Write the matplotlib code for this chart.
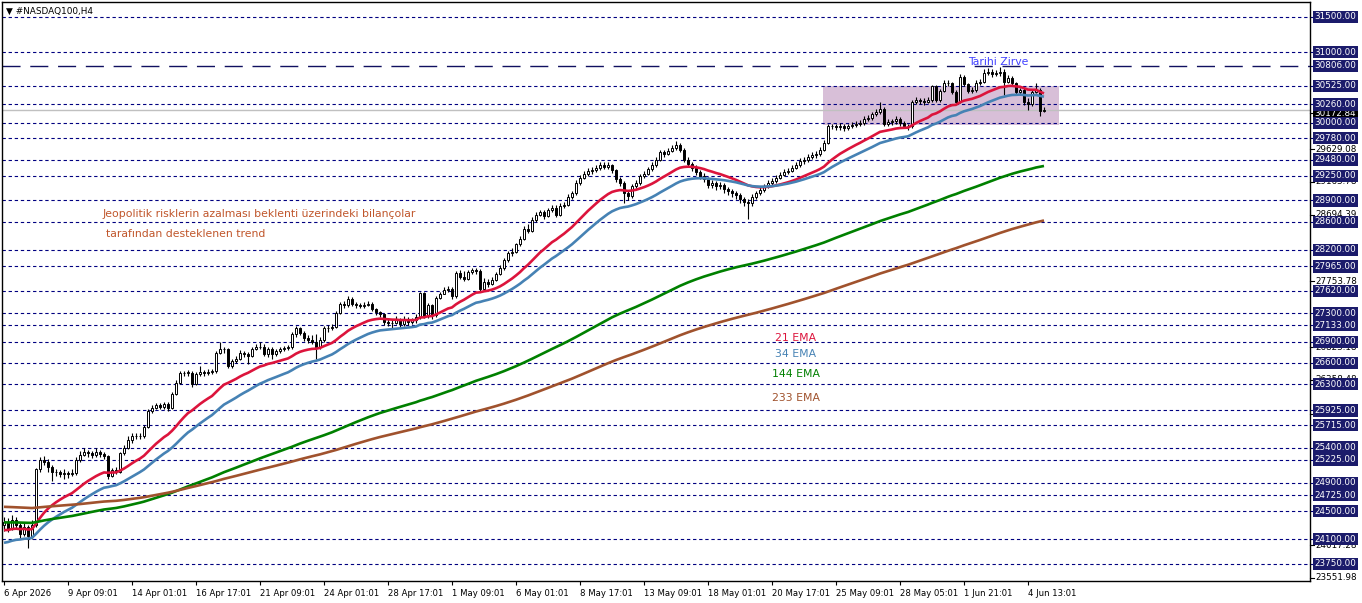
import numpy as np
import matplotlib
matplotlib.use("Agg")
import matplotlib.pyplot as plt
from matplotlib.patches import Rectangle

# H4 candles, one entry per bar (open of each bar = previous close)
first_open = 24300
closes = [
    24350, 24250, 24380, 24300, 24180, 24280, 24150, 24300, 25090, 25220,
    25200, 25120, 25060, 25050, 25030, 25040, 25020, 25040, 25230, 25300,
    25330, 25320, 25300, 25340, 25310, 25280, 25000, 25080, 25060, 25320,
    25400, 25500, 25560, 25570, 25560, 25690, 25920, 25960, 26000, 25980,
    26010, 25960, 26160, 26320, 26450, 26460, 26460, 26300, 26440, 26470,
    26460, 26470, 26480, 26740, 26800, 26790, 26560, 26620, 26660, 26740,
    26720, 26700, 26800, 26820, 26830, 26720, 26800, 26720, 26770, 26800,
    26810, 26820, 27010, 27090, 27020, 26950, 26920, 26900, 26830, 26920,
    27090, 27090, 27110, 27310, 27440, 27420, 27500, 27430, 27420, 27410,
    27420, 27440, 27360, 27320, 27290, 27180, 27160, 27170, 27200, 27150,
    27220, 27180, 27200, 27250, 27590, 27260, 27420, 27280, 27520, 27580,
    27630, 27650, 27540, 27870, 27820, 27790, 27880, 27910, 27900, 27650,
    27750, 27720, 27780, 27860, 27940, 28050, 28150, 28170, 28280, 28360,
    28500, 28470, 28620, 28700, 28730, 28680, 28760, 28800, 28700, 28820,
    28840, 28950, 29000, 29150, 29220, 29280, 29320, 29330, 29360, 29400,
    29380, 29400, 29330, 29200, 29150, 29000, 28960, 29100, 29150, 29250,
    29280, 29340, 29400, 29480, 29580, 29560, 29600, 29640, 29680, 29620,
    29480, 29420, 29360, 29300, 29250, 29200, 29120, 29150, 29100, 29120,
    29060, 29030, 29000, 28980, 28920, 28880, 28860, 28950, 29000, 29050,
    29100, 29150, 29180, 29220, 29260, 29300, 29320, 29360, 29400, 29460,
    29480, 29520, 29540, 29560, 29620, 29720, 29960, 29950, 29940, 29960,
    29930, 29950, 29970, 29990, 30000, 30060, 30070, 30120, 30150, 30200,
    29990, 30010, 30020, 30050, 30000, 29960, 29950, 30300, 30320, 30310,
    30300, 30320, 30520, 30320, 30450, 30560, 30560, 30440, 30300, 30650,
    30550, 30450, 30470, 30560, 30580, 30700, 30720, 30690, 30700, 30720,
    30580, 30630, 30560, 30430, 30460, 30300, 30260, 30440, 30470, 30170,
    30180,
]
highs = [
    24420, 24400, 24440, 24420, 24330, 24340, 24300, 24380, 25110, 25260,
    25280, 25240, 25150, 25100, 25080, 25090, 25070, 25090, 25260, 25350,
    25390, 25360, 25350, 25400, 25370, 25330, 25300, 25110, 25120, 25340,
    25430, 25560, 25600, 25610, 25600, 25720, 25950, 26000, 26030, 26030,
    26050, 26040, 26190, 26350, 26480, 26490, 26500, 26480, 26470, 26560,
    26500, 26510, 26510, 26770, 26890, 26830, 26810, 26650, 26690, 26780,
    26770, 26750, 26830, 26860, 26900, 26860, 26830, 26820, 26800, 26830,
    26840, 26850, 27040, 27120, 27110, 27050, 26990, 27000, 27010, 26960,
    27120, 27130, 27150, 27340, 27460, 27470, 27540, 27530, 27460, 27450,
    27460, 27470, 27460, 27380, 27340, 27300, 27220, 27220, 27260, 27240,
    27260, 27250, 27240, 27290, 27610, 27610, 27450, 27440, 27550, 27610,
    27670, 27690, 27680, 27900, 27920, 27900, 27920, 27950, 27950, 27930,
    27800, 27790, 27820, 27890, 27980, 28080, 28180, 28220, 28300, 28400,
    28540, 28560, 28660, 28740, 28770, 28760, 28800, 28840, 28830, 28860,
    28880, 28990, 29040, 29190, 29260, 29320, 29360, 29380, 29400, 29440,
    29450, 29440, 29420, 29350, 29230, 29170, 29050, 29130, 29190, 29280,
    29320, 29380, 29440, 29520, 29620, 29620, 29640, 29680, 29740, 29720,
    29650, 29510, 29450, 29400, 29330, 29290, 29230, 29190, 29180, 29160,
    29150, 29090, 29060, 29040, 29010, 28950, 28920, 28990, 29040, 29090,
    29140, 29190, 29220, 29260, 29300, 29340, 29360, 29400, 29440, 29500,
    29520, 29560, 29580, 29600, 29660, 29760, 29990, 29990, 29980, 30000,
    29990, 29990, 30010, 30030, 30040, 30100, 30110, 30160, 30190, 30300,
    30220, 30050, 30060, 30090, 30080, 30030, 29990, 30320, 30360, 30350,
    30350, 30360, 30540, 30540, 30480, 30600, 30600, 30580, 30460, 30690,
    30680, 30570, 30510, 30600, 30620, 30760, 30770, 30760, 30750, 30790,
    30760, 30680, 30660, 30580, 30500, 30490, 30350, 30480, 30560, 30490,
    30230,
]
lows = [
    24220, 24200, 24230, 24250, 24120, 24150, 23970, 24110, 24280, 25060,
    25150, 25050, 24920, 24990, 24980, 24960, 24970, 24990, 25010, 25200,
    25280, 25270, 25250, 25270, 25270, 25240, 24950, 24980, 25020, 25040,
    25300, 25380, 25470, 25520, 25520, 25540, 25670, 25890, 25940, 25940,
    25950, 25920, 25940, 26140, 26300, 26420, 26420, 26260, 26280, 26420,
    26420, 26430, 26440, 26460, 26720, 26740, 26520, 26530, 26600, 26640,
    26680, 26590, 26680, 26780, 26790, 26690, 26680, 26650, 26700, 26740,
    26770, 26780, 26800, 26960, 26990, 26910, 26880, 26860, 26650, 26800,
    26900, 27040, 27070, 27090, 27290, 27380, 27390, 27400, 27380, 27370,
    27380, 27400, 27330, 27280, 27250, 27130, 27120, 27080, 27150, 27110,
    27120, 27140, 27150, 27160, 27220, 27230, 27230, 27220, 27250, 27500,
    27570, 27600, 27510, 27520, 27790, 27760, 27770, 27860, 27860, 27620,
    27620, 27680, 27700, 27760, 27840, 27920, 28030, 28120, 28150, 28260,
    28340, 28440, 28450, 28600, 28680, 28640, 28660, 28740, 28660, 28680,
    28790, 28820, 28920, 28980, 29120, 29200, 29250, 29280, 29300, 29330,
    29340, 29350, 29290, 29160, 29100, 28870, 28900, 28940, 29080, 29120,
    29220, 29260, 29320, 29380, 29460, 29520, 29540, 29580, 29620, 29580,
    29440, 29380, 29320, 29260, 29200, 29160, 29080, 29080, 29050, 29060,
    29010, 28980, 28950, 28920, 28870, 28820, 28640, 28820, 28920, 28980,
    29020, 29080, 29120, 29150, 29200, 29240, 29270, 29300, 29340, 29380,
    29420, 29450, 29490, 29500, 29530, 29600, 29700, 29910, 29900, 29900,
    29880, 29900, 29920, 29940, 29950, 29970, 30020, 30040, 30090, 30120,
    29950, 29950, 29970, 29990, 29950, 29920, 29900, 29930, 30270, 30270,
    30250, 30280, 30290, 30290, 30290, 30430, 30520, 30410, 30270, 30280,
    30520, 30420, 30420, 30440, 30530, 30560, 30680, 30650, 30660, 30670,
    30400, 30560, 30520, 30390, 30400, 30250, 30180, 30240, 30420, 30100,
    30150,
]

# moving averages: periods, colours, starting values read at the first bar
ema_periods = [21, 34, 144, 233]
ema_seeds = [24230, 24050, 24340, 24560]
ema_colors = ["#DC143C", "#4682B4", "#008000", "#A0522D"]
ema_labels = ["21 EMA", "34 EMA", "144 EMA", "233 EMA"]
ema_label_y = [26945, 26720, 26440, 26100]

# horizontal levels drawn on the chart
levels = [31500, 31000, 30525, 30260, 30000, 29780, 29480, 29250, 28900, 28600,
          28200, 27965, 27620, 27300, 27133, 26900, 26600, 26300, 25925, 25715,
          25400, 25225, 24900, 24725, 24500, 24100, 23750]
ath_level = 30806
bid_price = 30175
scale_labels = [29629.08, 29163.78, 28694.39, 27753.78, 26823.18, 26358.48,
                25878.48, 24017.28, 23551.98, 30133.84]

box_bars = (204.75, 263.75)
box_prices = (29975, 30525)

tick_bars = list(range(0, 257, 16))
tick_labels = ["6 Apr 2026", "9 Apr 09:01", "14 Apr 01:01", "16 Apr 17:01",
               "21 Apr 09:01", "24 Apr 01:01", "28 Apr 17:01", "1 May 09:01",
               "6 May 01:01", "8 May 17:01", "13 May 09:01", "18 May 01:01",
               "20 May 17:01", "25 May 09:01", "28 May 05:01", "1 Jun 21:01",
               "4 Jun 13:01"]

c = np.array(closes, dtype=float)
o = np.concatenate([[first_open], c[:-1]])
h = np.array(highs, dtype=float)
l = np.array(lows, dtype=float)
x = np.arange(len(c))


def ema(values, period, seed):
    a = 2.0 / (period + 1)
    out = np.empty_like(values)
    prev = seed
    for i, v in enumerate(values):
        prev = prev + a * (v - prev) if i > 0 else seed
        out[i] = prev
    return out


W, H = 1362, 603
fig = plt.figure(figsize=(W / 100, H / 100), dpi=100)
ax = fig.add_axes([2 / W, 22 / H, 1308 / W, 579 / H])
ax.set_xlim(-0.5, 326.5)
ax.set_ylim(23509, 31712)

navy = "#000080"
box_navy = "#1b1b6b"
font = "DejaVu Sans"

# levels
for lv in levels:
    ax.axhline(lv, color=navy, lw=0.8, ls=(0, (3, 2.5)), zorder=1)
ax.axhline(ath_level, color="#101060", lw=1.0, ls=(0, (13, 7)), zorder=1)
ax.axhline(bid_price, color="#c0c0c0", lw=1.0, zorder=1)

ax.add_patch(Rectangle((box_bars[0], box_prices[0]), box_bars[1] - box_bars[0],
                       box_prices[1] - box_prices[0], fc="#d8bfd8", ec="none", zorder=0.5))

# EMAs
for p, s, col in zip(ema_periods, ema_seeds, ema_colors):
    ax.plot(x, ema(c, p, s), color=col, lw=1.9, zorder=4, solid_capstyle="butt")

# candles
up = c >= o
ax.vlines(x, l, h, color="black", lw=0.8, zorder=2)
body_lo = np.minimum(o, c)
body_h = np.maximum(np.abs(c - o), 8)
ax.bar(x[up], body_h[up], bottom=body_lo[up], width=0.6, color="white",
       edgecolor="black", lw=0.7, zorder=3)
ax.bar(x[~up], body_h[~up], bottom=body_lo[~up], width=0.6, color="black",
       edgecolor="black", lw=0.7, zorder=3)

# texts
ax.text(24.7, 28705, "Jeopolitik risklerin azalması beklenti üzerindeki bilançolar",
        color="#c0562b", fontsize=7.8, family=font, va="center", ha="left")
ax.text(25.5, 28425, "tarafından desteklenen trend",
        color="#c0562b", fontsize=7.8, family=font, va="center", ha="left")
ax.text(248.5, 30865, "Tarihi Zirve", color="#4040ff", fontsize=7.8, family=font,
        ha="center", va="center", zorder=5)
for lab, ly, col in zip(ema_labels, ema_label_y, ema_colors):
    ax.text(198, ly, lab, color=col, fontsize=7.8, family=font,
            ha="center", va="center")
ax.text(0.003, 0.983, "\u25bc #NASDAQ100,H4", transform=ax.transAxes, fontsize=6.4,
        family=font, ha="left", va="center", color="black")

# right price scale
ytr = ax.get_yaxis_transform()
for sl in scale_labels:
    ax.text(1.0045, sl, f"{sl:.2f}", transform=ytr, fontsize=6.3, family=font,
            ha="left", va="center", color="black", clip_on=False, zorder=5)
ax.text(1.0035, 30128, "30172.84", transform=ytr, fontsize=6.3, family=font,
        ha="left", va="center", color="white", clip_on=False, zorder=6,
        bbox=dict(boxstyle="square,pad=0.18", fc="black", ec="none"))
for lv in levels + [ath_level]:
    ax.text(1.0035, lv, f"{lv:.2f}", transform=ytr, fontsize=6.3, family=font,
            ha="left", va="center", color="white", clip_on=False, zorder=7,
            bbox=dict(boxstyle="square,pad=0.18", fc=box_navy, ec="none"))
    ax.plot([1.0, 1.003], [lv, lv], transform=ytr, color=navy, lw=0.8,
            clip_on=False)
for sl in scale_labels:
    ax.plot([1.0, 1.003], [sl, sl], transform=ytr, color="black", lw=0.8,
            clip_on=False)

ax.set_yticks([])
ax.set_xticks(tick_bars)
ax.set_xticklabels(tick_labels, fontsize=6.1, family=font, ha="left")
ax.tick_params(axis="x", length=3, width=0.8, pad=3, color="black")
for sp in ax.spines.values():
    sp.set_color("black")
    sp.set_linewidth(1.0)

fig.savefig("out.png", dpi=100, facecolor="white")
